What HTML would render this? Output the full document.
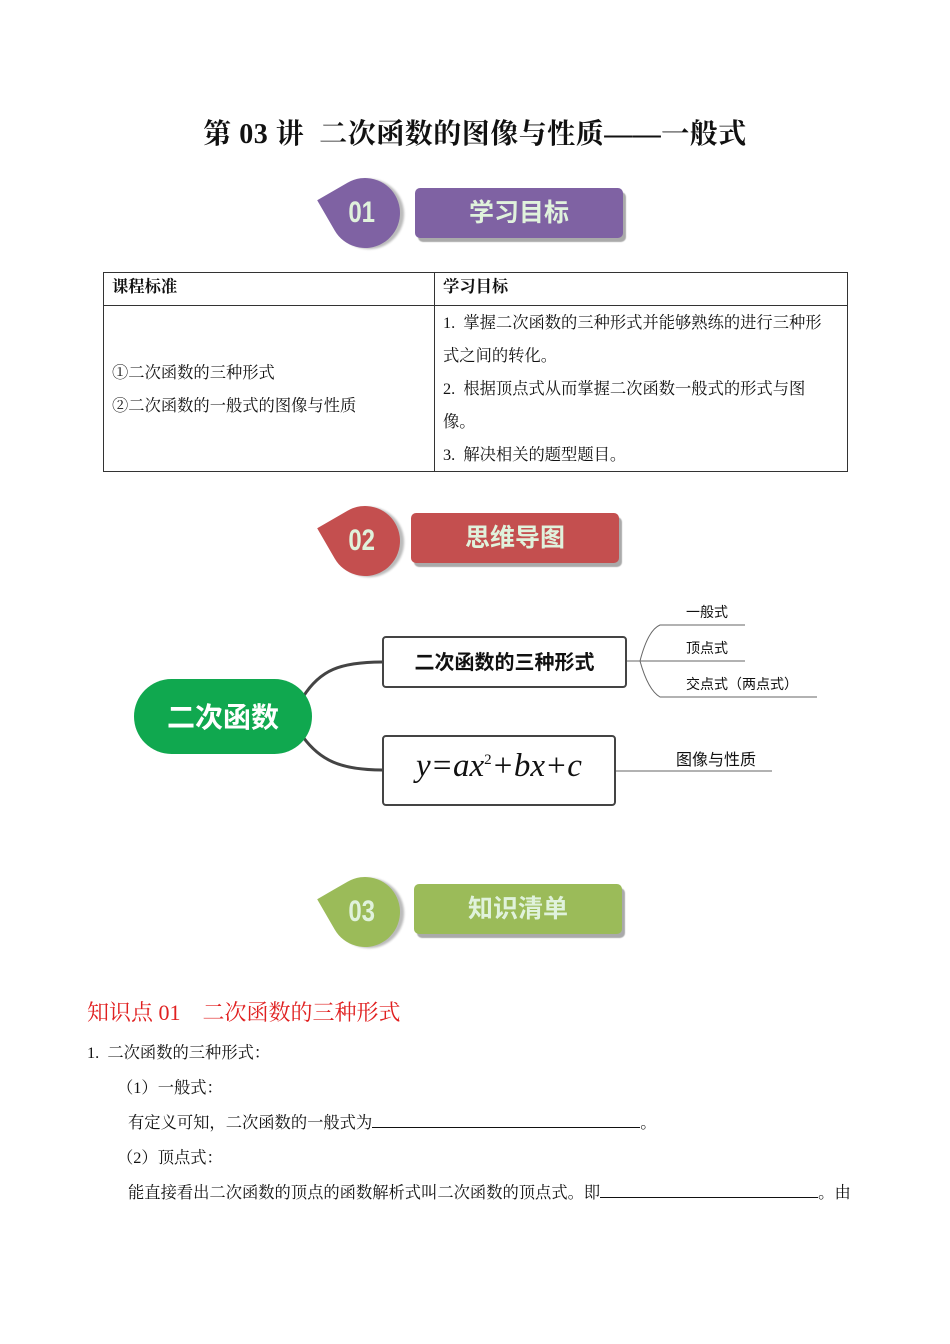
<!DOCTYPE html>
<html><head><meta charset="utf-8"><style>
body{margin:0;width:950px;height:1344px;background:#fff;position:relative;font-family:"Liberation Serif","Noto Serif CJK SC",serif;color:#111;overflow:hidden}
.a{position:absolute;white-space:nowrap}
.badge{position:absolute;width:70px;height:70px;border-radius:0 50% 50% 50%;transform:rotate(-30deg);box-shadow:3px 3px 2px #bbb}
.num{position:absolute;font:bold 30px "Liberation Sans",sans-serif;color:#e0f2dc;transform:scaleX(0.8)}
.bar{position:absolute;width:208px;height:50px;border-radius:5px;box-shadow:3px 4px 1px #aaa;color:#e0f2dc;font:bold 25px "Noto Sans CJK SC",sans-serif;text-align:center;line-height:46px}
table{position:absolute;left:103px;top:272px;width:745px;border-collapse:collapse;font-size:16.3px}
td{border:1px solid #333;vertical-align:top;padding:0 8px}
.t{font-size:16.3px}
</style></head><body>
<div class="a" style="left:0;width:950px;text-align:center;top:112px;font-size:28px;font-weight:bold;letter-spacing:0.5px">第 03 讲&nbsp; 二次函数的图像与性质——一般式</div>

<div class="badge" style="left:330px;top:178px;background:#7f62a3"></div>
<div class="num" style="left:345px;top:196px">01</div>
<div class="bar" style="left:415px;top:188px;background:#7f62a3">学习目标</div>

<table>
<tr style="height:33px"><td style="width:314px;font-weight:bold;padding-top:0">课程标准</td><td style="font-weight:bold;padding-top:0">学习目标</td></tr>
<tr style="height:163px"><td style="vertical-align:middle;line-height:33px">①二次函数的三种形式<br>②二次函数的一般式的图像与性质</td>
<td style="line-height:33px;padding-right:10px">1.&nbsp; 掌握二次函数的三种形式并能够熟练的进行三种形式之间的转化。<br>2.&nbsp; 根据顶点式从而掌握二次函数一般式的形式与图像。<br>3.&nbsp; 解决相关的题型题目。</td></tr>
</table>

<div class="badge" style="left:330px;top:506px;background:#c44f4f"></div>
<div class="num" style="left:345px;top:524px">02</div>
<div class="bar" style="left:411px;top:513px;background:#c44f4f">思维导图</div>

<svg class="a" style="left:0;top:0" width="950" height="1344">
<path d="M303 697 C320 670 340 662 383 662" stroke="#444" stroke-width="3" fill="none"/>
<path d="M303 737 C320 760 340 770 383 770" stroke="#444" stroke-width="3" fill="none"/>
<rect x="383" y="637" width="243" height="50" rx="3" fill="#fff" stroke="#444" stroke-width="2"/>
<rect x="383" y="736" width="232" height="69" rx="3" fill="#fff" stroke="#444" stroke-width="2"/>
<path d="M627 661 H640 M640 661 Q648 630 660 625 H745 M640 661 H745 M640 661 Q648 690 660 697 H817" stroke="#666" stroke-width="1" fill="none"/>
<path d="M616 771 H772" stroke="#666" stroke-width="1"/>
</svg>
<div class="a" style="left:134px;top:679px;width:178px;height:75px;border-radius:38px;background:#10a84f;color:#fff;font:bold 28px 'Noto Sans CJK SC',sans-serif;text-align:center;line-height:75px">二次函数</div>
<div class="a" style="left:383px;top:646px;width:243px;text-align:center;font:bold 20px 'Noto Sans CJK SC',sans-serif">二次函数的三种形式</div>
<div class="a" style="left:383px;top:748px;width:232px;text-align:center;font:italic 33px 'Liberation Serif',serif">y=ax<sup style="font-size:15px;font-style:normal">2</sup>+bx+c</div>
<div class="a" style="left:686px;top:602px;font:14px 'Noto Sans CJK SC',sans-serif">一般式</div>
<div class="a" style="left:686px;top:638px;font:14px 'Noto Sans CJK SC',sans-serif">顶点式</div>
<div class="a" style="left:686px;top:674px;font:14px 'Noto Sans CJK SC',sans-serif">交点式（两点式）</div>
<div class="a" style="left:676px;top:746px;font:16px 'Noto Sans CJK SC',sans-serif">图像与性质</div>

<div class="badge" style="left:330px;top:877px;background:#9bbb59"></div>
<div class="num" style="left:345px;top:895px">03</div>
<div class="bar" style="left:414px;top:884px;background:#9bbb59">知识清单</div>

<div class="a" style="left:87px;top:996px;font-size:22px;color:#e02020">知识点 01&nbsp;&nbsp;&nbsp; 二次函数的三种形式</div>
<div class="a t" style="left:87px;top:1039px">1.&nbsp; 二次函数的三种形式：</div>
<div class="a t" style="left:117px;top:1074px">（1）一般式：</div>
<div class="a t" style="left:128px;top:1109px">有定义可知，二次函数的一般式为<span style="display:inline-block;width:268px;border-bottom:1px solid #111;height:15px"></span>。</div>
<div class="a t" style="left:117px;top:1144px">（2）顶点式：</div>
<div class="a t" style="left:128px;top:1179px">能直接看出二次函数的顶点的函数解析式叫二次函数的顶点式。即<span style="display:inline-block;width:218px;border-bottom:1px solid #111;height:15px"></span>。由</div>
</body></html>
